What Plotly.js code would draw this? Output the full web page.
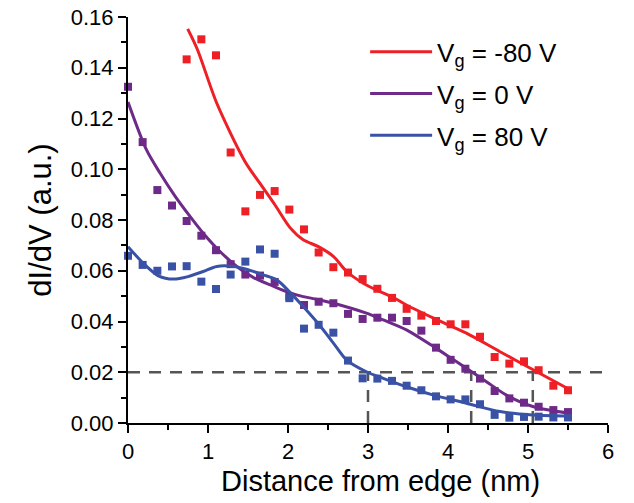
<!DOCTYPE html>
<html>
<head>
<meta charset="utf-8">
<script src="https://cdn.plot.ly/plotly-3.0.1.min.js"></script>
<style>html,body{margin:0;padding:0;background:#fff;}#chart{width:634px;height:503px;}</style>
</head>
<body>
<div id="chart"></div>
<script>
// Measured data points (squares)
const redX = [0.733,0.917,1.1,1.283,1.467,1.65,1.833,2.017,2.2,2.383,2.567,2.75,2.933,3.117,3.3,3.483,3.667,3.85,4.033,4.217,4.4,4.583,4.767,4.95,5.133,5.317,5.5];
const redY = [0.1433,0.1512,0.1449,0.1066,0.0834,0.0899,0.0914,0.0841,0.0763,0.0672,0.0614,0.0593,0.0567,0.0529,0.0493,0.0450,0.0423,0.0402,0.0389,0.0389,0.0340,0.0260,0.0234,0.0243,0.0208,0.0147,0.0129];

const pbX = [0,0.183,0.367,0.55,0.733,0.917,1.1,1.283,1.467,1.65,1.833,2.017,2.2,2.383,2.567,2.75,2.933,3.117,3.3,3.483,3.667,3.85,4.033,4.217,4.4,4.583,4.767,4.95,5.133,5.317,5.5];
const purpleY = [0.1325,0.1107,0.0918,0.0857,0.0796,0.0738,0.0681,0.0626,0.0585,0.0581,0.0556,0.0499,0.0465,0.0478,0.0472,0.0430,0.0410,0.0415,0.0415,0.0402,0.0364,0.0297,0.0249,0.0214,0.0175,0.0126,0.0097,0.0080,0.0064,0.0051,0.0043];
const blueY = [0.0659,0.0623,0.0600,0.0617,0.0618,0.0557,0.0528,0.0585,0.0636,0.0684,0.0667,0.0492,0.0372,0.0387,0.0356,0.0246,0.0176,0.0175,0.0166,0.0147,0.0129,0.0105,0.0093,0.0093,0.0074,0.0032,0.0021,0.0024,0.0025,0.0022,0.0022];

// Fit curves
const redFitX = [0.746,0.87,1.11,1.46,1.65,1.84,2.025,2.19,2.38,2.57,2.73,2.94,3.15,3.32,3.48,3.82,4.23,4.65,5.07,5.53];
const redFitY = [0.1553,0.147,0.126,0.1032,0.0944,0.0858,0.0770,0.0722,0.0695,0.0656,0.0598,0.0551,0.0518,0.0494,0.0465,0.0413,0.0354,0.0281,0.0209,0.0130];
const purpleFitX = [0,0.23,0.4,0.59,0.775,0.94,1.15,1.36,1.57,1.78,1.98,2.19,2.4,2.57,2.98,3.19,3.48,3.82,4.07,4.23,4.48,4.73,5.07,5.53];
const purpleFitY = [0.1265,0.1077,0.0985,0.0893,0.0814,0.0748,0.0676,0.0617,0.0573,0.0544,0.0518,0.0498,0.0485,0.0472,0.0433,0.0406,0.0367,0.0301,0.0249,0.0216,0.0163,0.0110,0.0064,0.0038];
const blueFitX = [0,0.19,0.38,0.57,0.75,0.94,1.11,1.32,1.48,1.69,1.86,2.025,2.19,2.39,2.57,2.73,2.98,3.19,3.48,3.82,4.23,4.65,5.07,5.53];
const blueFitY = [0.0695,0.0630,0.0580,0.0567,0.0577,0.0597,0.0617,0.0617,0.0606,0.0584,0.0564,0.0515,0.0459,0.0387,0.0314,0.0249,0.0202,0.0176,0.0143,0.0110,0.0078,0.0045,0.0032,0.0028];

const legendNames = ['V<sub>g</sub> = -80 V','V<sub>g</sub> = 0 V','V<sub>g</sub> = 80 V'];
const colors = ['#ee1f25','#6e2a88','#3a52a5'];
const xTitle = 'Distance from edge (nm)';
const yTitle = 'dI/dV (a.u.)';

// Guide (dashed) lines
const thresholdY = 0.02;
const crossX = [3.0, 4.29, 5.06];

const font = 'Liberation Sans, Arial, sans-serif';

const traces = [];
const fitsX = [redFitX, purpleFitX, blueFitX];
const fitsY = [redFitY, purpleFitY, blueFitY];
const ptsX = [redX, pbX, pbX];
const ptsY = [redY, purpleY, blueY];
for (let i = 0; i < 3; i++) {
  traces.push({x: ptsX[i], y: ptsY[i], mode: 'markers', type: 'scatter', showlegend: false,
    marker: {symbol: 'square', size: 8, color: colors[i]}, cliponaxis: false, hoverinfo: 'skip'});
}
for (let i = 0; i < 3; i++) {
  traces.push({x: fitsX[i], y: fitsY[i], mode: 'lines', type: 'scatter', name: legendNames[i],
    legendgroup: 'g' + i,
    line: {color: colors[i], width: 3, shape: 'spline', smoothing: 0.8}});
}

const dashStyle = {color: '#555', width: 2.5, dash: '12px,9px'};
const shapes = [{type: 'line', xref: 'x', yref: 'y', x0: 0, x1: 6, y0: thresholdY, y1: thresholdY,
  line: dashStyle, layer: 'below'}];
crossX.forEach(v => shapes.push({type: 'line', xref: 'x', yref: 'y', x0: v, x1: v, y0: 0, y1: thresholdY,
  line: dashStyle, layer: 'below'}));

const layout = {
  width: 634, height: 503,
  margin: {l: 128, r: 26, t: 17, b: 80},
  paper_bgcolor: '#fff', plot_bgcolor: '#fff',
  font: {family: font, color: '#000', size: 22},
  showlegend: true,
  legend: {x: 0.494, y: 0.972, xanchor: 'left', yanchor: 'top', bgcolor: 'rgba(0,0,0,0)',
    font: {family: font, size: 26}, itemwidth: 62, tracegroupgap: 5},
  xaxis: {range: [0, 6], dtick: 1, tick0: 0, showgrid: false, zeroline: false,
    showline: true, linecolor: '#000', linewidth: 2, ticks: 'outside', ticklen: 8, tickwidth: 2, tickcolor: '#000',
    minor: {dtick: 0.5, ticks: 'outside', ticklen: 5, tickwidth: 2, tickcolor: '#000', showgrid: false},
    tickfont: {size: 22, family: font}},
  yaxis: {range: [0, 0.16], dtick: 0.02, tick0: 0, tickformat: '.2f', showgrid: false, zeroline: false,
    showline: true, linecolor: '#000', linewidth: 2, ticks: 'outside', ticklen: 8, tickwidth: 2, tickcolor: '#000',
    minor: {dtick: 0.01, ticks: 'outside', ticklen: 5, tickwidth: 2, tickcolor: '#000', showgrid: false},
    tickfont: {size: 22, family: font},
    title: {text: yTitle, font: {size: 31, family: font}, standoff: 10}},
  annotations: [{text: xTitle, xref: 'paper', yref: 'paper', x: 0.525, y: -0.142,
    xanchor: 'center', yanchor: 'middle', showarrow: false, font: {size: 29, family: font, color: '#000'}}],
  shapes: shapes
};

Plotly.newPlot('chart', traces, layout, {displayModeBar: false, staticPlot: true});
</script>
</body>
</html>
